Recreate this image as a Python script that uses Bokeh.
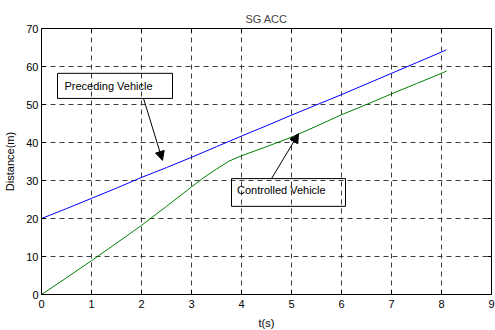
import math

from bokeh.plotting import figure
from bokeh.models import (Range1d, FixedTicker, Label, Arrow, NormalHead,
                          BoxAnnotation)
from bokeh.embed import file_html
from bokeh.resources import INLINE

# Time base (s)
t = [0, 0.5, 1, 1.5, 2, 2.5, 3, 3.25, 3.5, 3.75, 4, 4.5, 5, 5.5, 6, 6.5,
     7, 7.5, 8, 8.1]
# Distance of the preceding vehicle (m)
preceding = [20, 22.6, 25.3, 28.0, 30.8, 33.4, 36.1, 37.5, 38.9, 40.3,
             41.7, 44.4, 47.2, 49.9, 52.6, 55.4, 58.2, 61.0, 63.8, 64.4]
# Distance of the controlled vehicle (m)
controlled = [0, 4.4, 8.9, 13.5, 18.2, 23.2, 28.3, 30.8, 33.0, 35.1,
              36.5, 38.9, 41.4, 44.3, 47.3, 50.0, 52.8, 55.5, 58.2, 58.8]

x_ticks = [0, 1, 2, 3, 4, 5, 6, 7, 8, 9]
y_ticks = [0, 10, 20, 30, 40, 50, 60, 70]
x_lim = (0, 9)
y_lim = (0, 70)

FONT = "Liberation Sans"

p = figure(output_backend="svg", toolbar_location=None,
           x_range=Range1d(*x_lim), y_range=Range1d(*y_lim),
           title="SG ACC", x_axis_label="t(s)", y_axis_label="Distance(m)",
           frame_width=450, frame_height=266,
           min_border_left=41, min_border_right=4, min_border_top=28,
           min_border_bottom=36)

p.title.align = "center"
p.title.text_font = FONT
p.title.text_font_size = "11px"
p.title.text_font_style = "normal"
p.title.standoff = 7
p.title.offset = 0

p.outline_line_color = "black"
p.outline_line_width = 1
p.outline_line_alpha = 1
p.background_fill_color = "white"
p.border_fill_color = "white"

for ax, ticks in ((p.xaxis[0], x_ticks), (p.yaxis[0], y_ticks)):
    ax.ticker = FixedTicker(ticks=ticks)
    ax.major_tick_in = 4
    ax.major_tick_out = 0
    ax.minor_tick_line_color = None
    ax.axis_line_color = "black"
    ax.major_tick_line_color = "black"
    ax.major_label_text_font = FONT
    ax.major_label_text_font_size = "11px"
    ax.major_label_text_color = "black"
    ax.axis_label_text_font = FONT
    ax.axis_label_text_font_size = "11px"
    ax.axis_label_text_font_style = "normal"
    ax.axis_label_text_color = "black"
p.xaxis[0].major_label_standoff = 5
p.xaxis[0].axis_label_standoff = 6
p.yaxis[0].major_label_standoff = 3
p.yaxis[0].axis_label_standoff = 7

# Inward tick marks along the top and right edges of the box
p.ray(x=x_ticks, y=[y_lim[1]] * len(x_ticks), length=4,
      length_units="screen", angle=-math.pi / 2, line_color="black",
      line_width=1)
p.ray(x=[x_lim[1]] * len(y_ticks), y=y_ticks, length=4,
      length_units="screen", angle=math.pi, line_color="black",
      line_width=1)

for g, ticks in ((p.xgrid[0], x_ticks), (p.ygrid[0], y_ticks)):
    g.ticker = FixedTicker(ticks=ticks)
    g.grid_line_color = "#3c3c3c"
    g.grid_line_dash = "5 4"
    g.grid_line_width = 1

p.line(t, preceding, line_color="#0000ff", line_width=1)
p.line(t, controlled, line_color="#008000", line_width=1)

# Text boxes with arrows
p.add_layout(BoxAnnotation(left=0.32, right=2.62, bottom=51.6, top=58.2,
                           fill_alpha=0, line_color="black", line_alpha=1,
                           line_width=1))
p.add_layout(Label(x=0.46, y=54.9, text="Preceding Vehicle", text_font=FONT,
                   text_font_size="11px", text_baseline="middle",
                   text_color="black"))
p.add_layout(Arrow(x_start=2.04, y_start=51.6, x_end=2.42, y_end=35.3,
                   line_color="black", line_width=1,
                   end=NormalHead(size=9, fill_color="black",
                                  line_color="black")))

p.add_layout(BoxAnnotation(left=3.8, right=6.08, bottom=23.2, top=30.5,
                           fill_alpha=0, line_color="black", line_alpha=1,
                           line_width=1))
p.add_layout(Label(x=3.91, y=27.4, text="Controlled Vehicle", text_font=FONT,
                   text_font_size="11px", text_baseline="middle",
                   text_color="black"))
p.add_layout(Arrow(x_start=4.6, y_start=30.5, x_end=5.14, y_end=42.3,
                   line_color="black", line_width=1,
                   end=NormalHead(size=9, fill_color="black",
                                  line_color="black")))

open("out.html", "w").write(file_html(p, INLINE))
